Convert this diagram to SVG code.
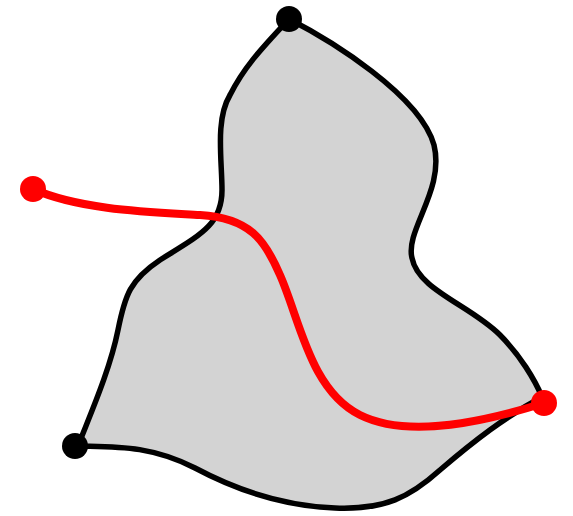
<svg xmlns="http://www.w3.org/2000/svg" width="573" height="516" viewBox="0 0 573 516">
<style>
.shape{fill:#d3d3d3;stroke:#000;stroke-width:5.5;stroke-linejoin:round}
.path{fill:none;stroke:#ff0000;stroke-width:8;stroke-linecap:round}
.bdot{fill:#000}
.rdot{fill:#ff0000}
</style>
<g id="region">
<path class="shape" d="M289,19 C330,40 420,95 434,145 C445,190 405,230 412,258 C418,290 470,305 500,335 C520,355 535,380 542,397 C505,417 475,440 440,470 C410,497 385,510 335,508 C285,506 240,492 195,468 C150,445 115,447 78,446 C90,415 110,370 118,330 C125,295 130,280 160,260 C200,235 222,225 222,190 C222,160 215,120 230,95 C245,65 265,45 289,19 Z"/>
</g>
<g id="connectors">
<path class="path" d="M33,189 C80,210 150,212 200,215 C250,218 265,240 280,275 C300,320 310,390 360,415 C410,440 490,420 544,403"/>
</g>
<g id="top-point"><circle class="bdot" cx="289" cy="19" r="13"/></g>
<g id="left-point"><circle class="bdot" cx="75" cy="446" r="13"/></g>
<g id="red-start"><circle class="rdot" cx="33" cy="189" r="13"/></g>
<g id="red-end"><circle class="rdot" cx="544" cy="403" r="13"/></g>
</svg>
